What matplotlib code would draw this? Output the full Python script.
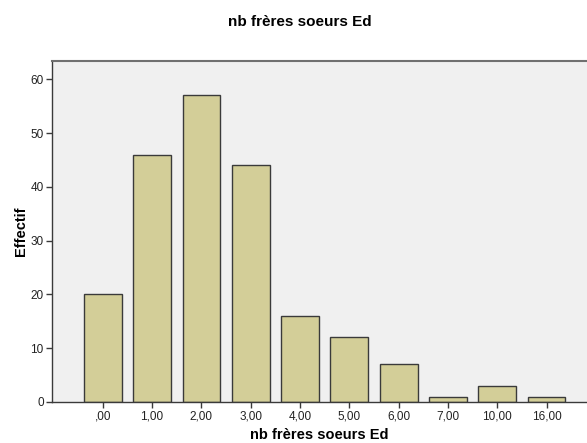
import matplotlib.pyplot as plt

categories = [',00', '1,00', '2,00', '3,00', '4,00', '5,00', '6,00', '7,00', '10,00', '16,00']
counts = [20, 46, 57, 44, 16, 12, 7, 1, 3, 1]
yticks = [0, 10, 20, 30, 40, 50, 60]

plt.rcParams['font.family'] = ['Liberation Sans', 'DejaVu Sans']

fig = plt.figure(figsize=(5.87, 4.43), dpi=100)
ax = fig.add_axes([0.0886, 0.0926, 0.9114, 0.7708])
ax.set_facecolor('#F0F0F0')

xs = list(range(len(categories)))
ax.bar(xs, counts, width=0.765, color='#D3CE98', edgecolor='#3A3A3A', linewidth=1.0, zorder=2)

ax.set_xlim(-1.03, 9.82)
ax.set_ylim(0, 63.5)
ax.set_xticks(xs)
ax.set_xticklabels(categories)
ax.set_yticks(yticks)
ax.tick_params(axis='both', direction='out', length=4, width=1, color='#3A3A3A',
               labelsize=8.5, labelcolor='#222222', pad=2)

for side in ['left', 'bottom']:
    ax.spines[side].set_color('#3A3A3A')
    ax.spines[side].set_linewidth(1.0)
ax.spines['top'].set_color('#707070')
ax.spines['top'].set_linewidth(1.5)
ax.spines['right'].set_visible(False)

ax.set_ylabel('Effectif', fontsize=10.5, fontweight='bold', labelpad=1.5)
ax.set_xlabel('nb frères soeurs Ed', fontsize=10.5, fontweight='bold', labelpad=4)
fig.text(0.511, 0.950, 'nb frères soeurs Ed', ha='center', va='center', fontsize=11, fontweight='bold')

fig.savefig('out.png', dpi=100)
